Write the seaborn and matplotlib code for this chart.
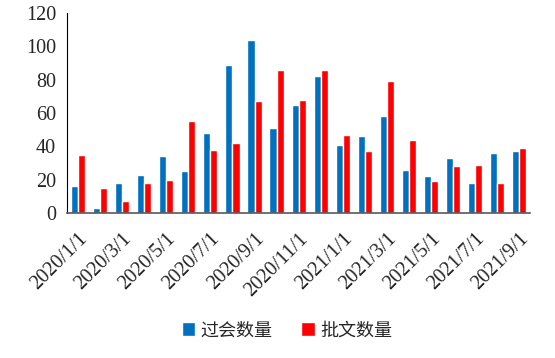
import pandas as pd
import matplotlib
matplotlib.use("Agg")
import matplotlib.pyplot as plt
import seaborn as sns

months = ["2020/1/1", "2020/2/1", "2020/3/1", "2020/4/1", "2020/5/1", "2020/6/1",
          "2020/7/1", "2020/8/1", "2020/9/1", "2020/10/1", "2020/11/1", "2020/12/1",
          "2021/1/1", "2021/2/1", "2021/3/1", "2021/4/1", "2021/5/1", "2021/6/1",
          "2021/7/1", "2021/8/1", "2021/9/1"]
guohui = [16, 3, 18, 23, 34, 25, 48, 89, 104, 51, 65, 82, 41, 46, 58, 26, 22, 33, 18, 36, 37]
piwen = [35, 15, 7, 18, 20, 55, 38, 42, 67, 86, 68, 86, 47, 37, 79, 44, 19, 28, 29, 18, 39]
series_names = ["过会数量", "批文数量"]

df = pd.DataFrame({"month": months, series_names[0]: guohui, series_names[1]: piwen})
long_df = df.melt(id_vars="month", var_name="type", value_name="count")

sns.set_style("white")
plt.rcParams["font.family"] = ["serif"]
plt.rcParams["font.serif"] = ["Liberation Serif", "DejaVu Serif"]

fig = plt.figure(figsize=(5.55, 3.58), dpi=100)
ax = fig.add_axes([0.121, 0.405, 0.834, 0.559])

sns.barplot(data=long_df, x="month", y="count", hue="type", order=months,
            hue_order=series_names, palette=["#0070C0", "#FF0000"],
            width=0.64, gap=0, ax=ax, saturation=1, legend=True)

ax.set_ylim(0, 120)
ax.set_yticks(range(0, 121, 20))
ax.set_xlim(-0.5, len(months) - 0.5)
ax.set_xlabel("")
ax.set_ylabel("")

# labels every other month, tick marks at the category boundaries
ax.set_xticks(range(0, len(months), 2))
ax.set_xticklabels(months[::2], rotation=45, ha="right", rotation_mode="anchor")
ax.tick_params(axis="x", length=0, labelsize=14.5, pad=12)
ax.set_xticks([i + 0.5 for i in range(1, len(months) - 1, 2)], minor=True)
ax.tick_params(axis="x", which="minor", direction="in", length=4, color="black")
ax.tick_params(axis="y", labelsize=14.5, length=4, direction="inout", color="black", pad=6)

for s in ["top", "right"]:
    ax.spines[s].set_visible(False)
ax.spines["left"].set_color("black")
ax.spines["bottom"].set_color("#595959")
ax.spines["bottom"].set_linewidth(1.2)

leg = ax.legend(loc="upper center", bbox_to_anchor=(0.475, -0.46), ncol=2, frameon=False,
                fontsize=13, handlelength=0.75, handleheight=0.75, handletextpad=0.3,
                columnspacing=1.6)
for t in leg.get_texts():
    t.set_family(["Noto Sans CJK SC", "DejaVu Sans"])

fig.savefig("out.png", dpi=100)
